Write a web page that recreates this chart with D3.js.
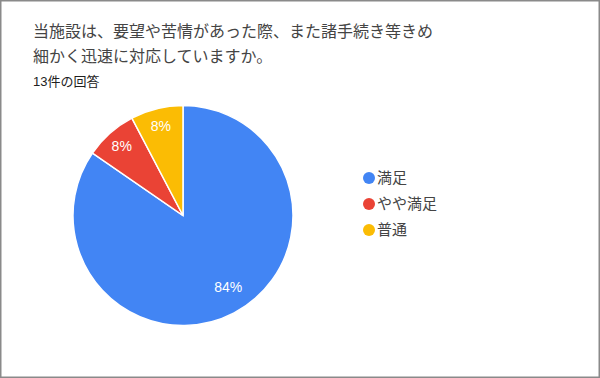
<html>
<head>
<meta charset="utf-8">
<script src="https://cdn.jsdelivr.net/npm/d3@7"></script>
<style>
  body { margin: 0; background: #fff; }
  text { font-family: "Liberation Sans", Arial, "Noto Sans CJK JP", sans-serif; }
</style>
</head>
<body>
<svg id="chart"></svg>
<script>
    // answers to one survey question (13 responses)
    var titleLines = ["当施設は、要望や苦情があった際、また諸手続き等きめ", "細かく迅速に対応していますか。"];
    var subtitle = "13件の回答";
    var categories = ["満足", "やや満足", "普通"];
    var counts = [11, 1, 1];
    var colors = ["#4285f4", "#ea4335", "#fbbc04"];

    var w = 600, h = 378;
    var cx = 183, cy = 215.5, r = 110;

    var svg = d3.select("#chart")
        .attr("width", w)
        .attr("height", h);

    svg.append("rect")
        .attr("x", 0.75).attr("y", 0.75)
        .attr("width", w - 1.5).attr("height", h - 1.5)
        .style("fill", "#fff")
        .style("stroke", "#8a8a8a")
        .style("stroke-width", 1.5);

    svg.selectAll(".title")
        .data(titleLines)
        .enter()
        .append("text")
        .attr("class", "title")
        .attr("x", 33)
        .attr("y", function(d, i){ return 31 + i * 25; })
        .attr("dy", "0.35em")
        .attr("font-size", 16)
        .attr("fill", "#444")
        .text(function(d){ return d; });

    svg.append("text")
        .attr("x", 33)
        .attr("y", 81)
        .attr("dy", "0.35em")
        .attr("font-size", 13)
        .attr("fill", "#212121")
        .text(subtitle);

    var total = d3.sum(counts);

    // whole percents that add up to 100 (largest remainder)
    var raw = counts.map(function(c){ return c / total * 100; });
    var pct = raw.map(Math.floor);
    var left = 100 - d3.sum(pct);
    d3.range(raw.length)
        .sort(function(a, b){ return (raw[b] - pct[b]) - (raw[a] - pct[a]); })
        .slice(0, left)
        .forEach(function(i){ pct[i] += 1; });

    var data = categories.map(function(c, i){
        return {name: c, value: counts[i], color: colors[i], pct: pct[i]};
    });

    var pie = d3.pie()
        .sort(null)
        .value(function(d){ return d.value; });

    var arc = d3.arc().innerRadius(0).outerRadius(r);

    var g = svg.append("g").attr("transform", "translate(" + cx + "," + cy + ")");
    var arcs = pie(data);

    g.selectAll("path")
        .data(arcs)
        .enter()
        .append("path")
        .attr("d", arc)
        .style("fill", function(d){ return d.data.color; })
        .style("stroke", "#fff")
        .style("stroke-width", 1.5);

    g.selectAll(".lbl")
        .data(arcs)
        .enter()
        .append("text")
        .attr("class", "lbl")
        .attr("transform", function(d){
            var big = d.data.value / total > 0.5;
            var k = big ? 0.77 * r : 0.84 * r;
            var a = (d.startAngle + d.endAngle) / 2;
            if (big) a -= 0.08;
            return "translate(" + (Math.sin(a) * k) + "," + (-Math.cos(a) * k) + ")";
        })
        .attr("text-anchor", "middle")
        .attr("dy", "0.35em")
        .attr("font-size", 14)
        .attr("fill", "#fff")
        .text(function(d){ return d.data.pct + "%"; });

    var legend = svg.selectAll(".leg")
        .data(data)
        .enter()
        .append("g")
        .attr("class", "leg")
        .attr("transform", function(d, i){ return "translate(369," + (178 + i * 26) + ")"; });

    legend.append("circle")
        .attr("r", 6)
        .style("fill", function(d){ return d.color; });

    legend.append("text")
        .attr("x", 8)
        .attr("dy", "0.35em")
        .attr("font-size", 15)
        .attr("fill", "#444")
        .text(function(d){ return d.name; });
</script>
</body>
</html>
